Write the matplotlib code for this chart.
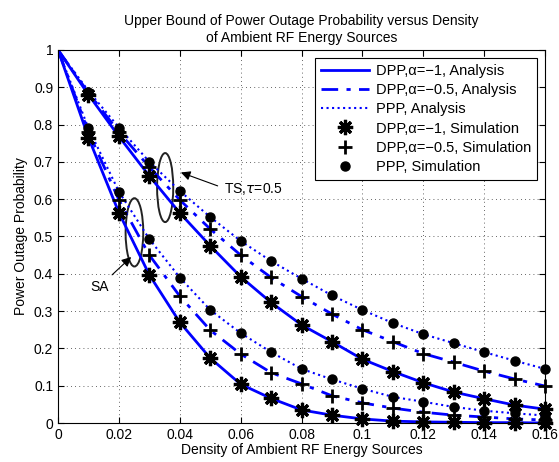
import numpy as np
import matplotlib.pyplot as plt
from matplotlib.patches import Ellipse

plt.rcParams['font.family'] = ['Liberation Sans', 'DejaVu Sans']
plt.rcParams['mathtext.fontset'] = 'custom'
plt.rcParams['mathtext.rm'] = 'Liberation Sans'

# density of ambient RF energy sources
x = [0, 0.01, 0.02, 0.03, 0.04, 0.05, 0.06, 0.07, 0.08, 0.09, 0.10, 0.11, 0.12, 0.13, 0.14, 0.15, 0.16]
x_sim = x[1:]

# SA (lower group), analysis
sa_dpp1 = [1, 0.765, 0.564, 0.397, 0.270, 0.174, 0.104, 0.066, 0.035, 0.021, 0.011, 0.005, 0.003, 0.002, 0.001, 0.001, 0.0]
sa_dpp05 = [1, 0.780, 0.598, 0.450, 0.340, 0.249, 0.185, 0.135, 0.105, 0.073, 0.054, 0.040, 0.029, 0.021, 0.016, 0.011, 0.008]
sa_ppp = [1, 0.790, 0.620, 0.493, 0.390, 0.303, 0.241, 0.190, 0.145, 0.117, 0.092, 0.070, 0.057, 0.043, 0.033, 0.026, 0.020]

# TS, tau=0.5 (upper group), analysis
ts_dpp1 = [1, 0.880, 0.768, 0.662, 0.563, 0.475, 0.392, 0.323, 0.263, 0.218, 0.171, 0.138, 0.108, 0.083, 0.065, 0.048, 0.037]
ts_dpp05 = [1, 0.885, 0.780, 0.686, 0.598, 0.520, 0.450, 0.390, 0.339, 0.292, 0.250, 0.218, 0.186, 0.163, 0.139, 0.118, 0.099]
ts_ppp = [1, 0.890, 0.792, 0.700, 0.622, 0.552, 0.488, 0.434, 0.387, 0.342, 0.303, 0.268, 0.238, 0.214, 0.190, 0.167, 0.145]

# simulation results
sa_dpp1_sim = [0.765, 0.562, 0.397, 0.270, 0.174, 0.104, 0.066, 0.035, 0.021, 0.011, 0.005, 0.003, 0.002, 0.001, 0.001, 0.0]
sa_dpp05_sim = [0.780, 0.598, 0.450, 0.340, 0.249, 0.185, 0.135, 0.105, 0.073, 0.054, 0.040, 0.029, 0.021, 0.016, 0.011, 0.008]
sa_ppp_sim = [0.792, 0.620, 0.493, 0.389, 0.303, 0.241, 0.190, 0.145, 0.117, 0.092, 0.070, 0.057, 0.043, 0.033, 0.026, 0.020]
ts_dpp1_sim = [0.880, 0.768, 0.662, 0.563, 0.475, 0.392, 0.323, 0.263, 0.218, 0.171, 0.138, 0.108, 0.083, 0.065, 0.048, 0.037]
ts_dpp05_sim = [0.883, 0.780, 0.686, 0.598, 0.520, 0.450, 0.390, 0.339, 0.292, 0.250, 0.218, 0.186, 0.163, 0.139, 0.118, 0.099]
ts_ppp_sim = [0.886, 0.792, 0.700, 0.622, 0.552, 0.488, 0.434, 0.387, 0.342, 0.303, 0.268, 0.238, 0.214, 0.190, 0.167, 0.145]

fig = plt.figure(figsize=(5.59, 4.62), dpi=100)
ax = fig.add_axes([0.1038, 0.0844, 0.8712, 0.8076])

blue = (0, 0, 1)
star = (8, 2, 0)

# analysis curves
l1, = ax.plot(x, sa_dpp1, '-', color=blue, lw=2)
ax.plot(x, ts_dpp1, '-', color=blue, lw=2)
l2, = ax.plot(x, sa_dpp05, '-.', color=blue, lw=2, dashes=(6, 3, 1.5, 3))
ax.plot(x, ts_dpp05, '-.', color=blue, lw=2, dashes=(6, 3, 1.5, 3))
l3, = ax.plot(x, sa_ppp, ':', color=blue, lw=1.5)
ax.plot(x, ts_ppp, ':', color=blue, lw=1.5)

# simulation markers
m1, = ax.plot(x_sim, sa_dpp1_sim, ls='none', marker=star, ms=11, mew=2.3, color='k', clip_on=False)
ax.plot(x_sim, ts_dpp1_sim, ls='none', marker=star, ms=11, mew=2.3, color='k', clip_on=False)
m2, = ax.plot(x_sim, sa_dpp05_sim, ls='none', marker='+', ms=10, mew=2, color='k', clip_on=False)
ax.plot(x_sim, ts_dpp05_sim, ls='none', marker='+', ms=10, mew=2, color='k', clip_on=False)
m3, = ax.plot(x_sim, sa_ppp_sim, ls='none', marker='o', ms=6.5, color='k', clip_on=False)
ax.plot(x_sim, ts_ppp_sim, ls='none', marker='o', ms=6.5, color='k', clip_on=False)

# ellipses and annotations
ax.add_patch(Ellipse((0.0352, 0.631), 0.0053, 0.185, fill=False, ec='#222222', lw=1.4))
ax.add_patch(Ellipse((0.0251, 0.511), 0.0058, 0.183, fill=False, ec='#222222', lw=1.4))
ax.annotate('', xy=(0.0395, 0.674), xytext=(0.0533, 0.633),
            arrowprops=dict(arrowstyle='-|>', color='k', lw=0.8, mutation_scale=14))
ax.text(0.0545, 0.627, r'TS,$\tau$=0.5', fontsize=10, va='center', ha='left')
ax.annotate('', xy=(0.0247, 0.45), xytext=(0.0171, 0.392),
            arrowprops=dict(arrowstyle='-|>', color='k', lw=0.8, mutation_scale=14))
ax.text(0.0135, 0.365, 'SA', fontsize=10, va='center', ha='center')

ax.set_xlim(0, 0.16)
ax.set_ylim(0, 1)
ax.set_xticks(np.arange(0, 0.161, 0.02))
ax.set_xticklabels(['0', '0.02', '0.04', '0.06', '0.08', '0.1', '0.12', '0.14', '0.16'])
ax.set_yticks(np.arange(0, 1.01, 0.1))
ax.set_yticklabels(['0', '0.1', '0.2', '0.3', '0.4', '0.5', '0.6', '0.7', '0.8', '0.9', '1'])
ax.tick_params(direction='in', top=True, right=True, labelsize=10, length=4)
ax.grid(True, ls=(0, (1, 4)), color='#333333', lw=0.6)

ax.set_xlabel('Density of Ambient RF Energy Sources', fontsize=10, labelpad=1)
ax.set_ylabel('Power Outage Probability', fontsize=10, labelpad=4)
ax.set_title('Upper Bound of Power Outage Probability versus Density\nof Ambient RF Energy Sources',
             fontsize=10, pad=6)

leg = ax.legend([l1, l2, l3, m1, m2, m3],
                ['DPP,\u03b1=\u22121, Analysis', 'DPP,\u03b1=\u22120.5, Analysis', 'PPP, Analysis',
                 'DPP,\u03b1=\u22121, Simulation', 'DPP,\u03b1=\u22120.5, Simulation', 'PPP, Simulation'],
                loc='upper right', fontsize=10.5, fancybox=False, edgecolor='k', framealpha=1,
                handlelength=3.3, handletextpad=0.5, borderaxespad=0.55, labelspacing=0.36,
                borderpad=0.4)
leg.get_frame().set_linewidth(0.8)

fig.savefig('out.png', dpi=100)
